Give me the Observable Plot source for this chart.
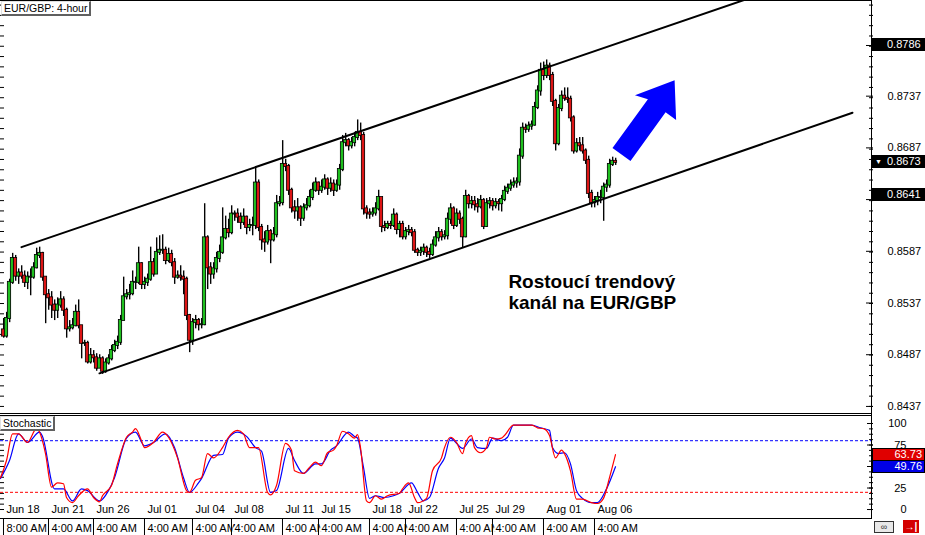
<!DOCTYPE html>
<html><head><meta charset="utf-8">
<script src="https://cdn.jsdelivr.net/npm/d3@7"></script>
<script src="https://cdn.jsdelivr.net/npm/@observablehq/plot@0.6"></script>
<style>
body{margin:0;background:#fff;}
#wrap{position:relative;width:925px;height:535px;overflow:hidden;background:#fff;font-family:"Liberation Sans",Arial,sans-serif;}
#wrap svg{position:absolute;left:0;}
.ln{position:absolute;background:#000;}
.box{position:absolute;left:872px;width:53px;height:13px;font-size:11px;line-height:13px;color:#fff;box-sizing:border-box;}
.tag{position:absolute;background:#fff;color:#000;font-size:10.5px;line-height:12px;padding:0 2px;border-top:1px solid #e0e0e0;border-left:1px solid #e0e0e0;border-right:2px solid #606060;border-bottom:2px solid #606060;white-space:nowrap;}
</style></head>
<body><div id="wrap"></div>
<script>
// ---- Price candles (EUR/GBP, 4-hour), bar index 0..204 ----
const firstOpen = 0.8511;
const closes = [
0.8505,0.8522,0.8557,0.8580,0.8563,0.8566,0.8563,0.8557,0.8562,0.8562,
0.8571,0.8583,0.8585,0.8562,0.8545,0.8542,0.8535,0.8530,0.8535,0.8540,
0.8530,0.8512,0.8513,0.8515,0.8528,0.8515,0.8498,0.8498,0.8480,0.8486,
0.8484,0.8474,0.8483,0.8471,0.8479,0.8483,0.8491,0.8496,0.8499,0.8520,
0.8543,0.8545,0.8546,0.8557,0.8557,0.8575,0.8555,0.8557,0.8560,0.8576,
0.8565,0.8586,0.8588,0.8588,0.8578,0.8584,0.8576,0.8562,0.8563,0.8562,
0.8560,0.8525,0.8501,0.8518,0.8520,0.8516,0.8516,0.8600,0.8571,0.8565,
0.8570,0.8580,0.8586,0.8600,0.8608,0.8605,0.8623,0.8623,0.8620,0.8615,
0.8620,0.8610,0.8612,0.8612,0.8653,0.8610,0.8598,0.8596,0.8606,0.8598,
0.8603,0.8633,0.8634,0.8671,0.8669,0.8646,0.8629,0.8626,0.8629,0.8619,
0.8629,0.8631,0.8639,0.8646,0.8653,0.8646,0.8649,0.8656,0.8648,0.8652,
0.8646,0.8651,0.8666,0.8692,0.8694,0.8689,0.8692,0.8697,0.8702,0.8699,
0.8628,0.8624,0.8623,0.8624,0.8628,0.8639,0.8611,0.8610,0.8613,0.8612,
0.8622,0.8608,0.8613,0.8601,0.8606,0.8607,0.8605,0.8588,0.8586,0.8587,
0.8590,0.8586,0.8584,0.8593,0.8600,0.8605,0.8601,0.8602,0.8618,0.8628,
0.8612,0.8623,0.8618,0.8601,0.8640,0.8633,0.8635,0.8632,0.8630,0.8636,
0.8611,0.8633,0.8635,0.8631,0.8634,0.8633,0.8637,0.8645,0.8648,0.8651,
0.8653,0.8654,0.8679,0.8706,0.8705,0.8708,0.8709,0.8726,0.8742,0.8762,
0.8757,0.8766,0.8757,0.8732,0.8691,0.8725,0.8737,0.8735,0.8734,0.8716,
0.8684,0.8691,0.8689,0.8684,0.8675,0.8643,0.8634,0.8636,0.8639,0.8639,
0.8649,0.8651,0.8671,0.8674,0.8673];
const highs = [
0.8522,0.8528,0.8560,0.8585,0.8583,0.8570,0.8573,0.8568,0.8567,0.8570,
0.8576,0.8590,0.8591,0.8586,0.8562,0.8550,0.8548,0.8540,0.8542,0.8548,
0.8543,0.8532,0.8520,0.8522,0.8535,0.8540,0.8515,0.8501,0.8500,0.8493,
0.8491,0.8488,0.8487,0.8485,0.8483,0.8487,0.8496,0.8501,0.8505,0.8525,
0.8562,0.8550,0.8555,0.8568,0.8562,0.8591,0.8576,0.8562,0.8565,0.8591,
0.8580,0.8600,0.8602,0.8603,0.8591,0.8590,0.8588,0.8580,0.8568,0.8573,
0.8568,0.8562,0.8526,0.8522,0.8525,0.8522,0.8522,0.8633,0.8602,0.8576,
0.8576,0.8586,0.8593,0.8629,0.8621,0.8618,0.8631,0.8626,0.8628,0.8624,
0.8628,0.8621,0.8618,0.8620,0.8669,0.8656,0.8613,0.8606,0.8612,0.8608,
0.8610,0.8641,0.8640,0.8694,0.8676,0.8671,0.8648,0.8636,0.8638,0.8631,
0.8633,0.8638,0.8646,0.8653,0.8658,0.8654,0.8656,0.8661,0.8658,0.8658,
0.8656,0.8656,0.8671,0.8699,0.8701,0.8696,0.8697,0.8702,0.8714,0.8711,
0.8702,0.8631,0.8628,0.8629,0.8634,0.8646,0.8639,0.8616,0.8616,0.8616,
0.8628,0.8624,0.8616,0.8616,0.8610,0.8612,0.8610,0.8608,0.8590,0.8591,
0.8594,0.8592,0.8590,0.8598,0.8606,0.8610,0.8608,0.8607,0.8624,0.8633,
0.8630,0.8628,0.8626,0.8620,0.8646,0.8642,0.8640,0.8640,0.8638,0.8641,
0.8638,0.8638,0.8639,0.8638,0.8638,0.8637,0.8641,0.8650,0.8652,0.8656,
0.8658,0.8658,0.8686,0.8711,0.8710,0.8712,0.8713,0.8731,0.8747,0.8769,
0.8770,0.8772,0.8769,0.8760,0.8734,0.8729,0.8742,0.8745,0.8745,0.8737,
0.8718,0.8696,0.8697,0.8697,0.8686,0.8679,0.8646,0.8640,0.8644,0.8646,
0.8653,0.8656,0.8676,0.8678,0.8677];
const lows = [
0.8503,0.8503,0.8518,0.8555,0.8558,0.8555,0.8560,0.8552,0.8550,0.8544,
0.8560,0.8570,0.8580,0.8558,0.8517,0.8530,0.8522,0.8520,0.8522,0.8532,
0.8524,0.8503,0.8509,0.8511,0.8514,0.8512,0.8483,0.8495,0.8478,0.8478,
0.8479,0.8471,0.8474,0.8468,0.8469,0.8477,0.8481,0.8489,0.8492,0.8496,
0.8522,0.8540,0.8540,0.8544,0.8550,0.8555,0.8550,0.8550,0.8553,0.8558,
0.8562,0.8565,0.8583,0.8584,0.8574,0.8576,0.8572,0.8555,0.8560,0.8558,
0.8545,0.8520,0.8489,0.8496,0.8512,0.8510,0.8512,0.8515,0.8550,0.8555,
0.8560,0.8566,0.8576,0.8584,0.8598,0.8600,0.8603,0.8616,0.8614,0.8608,
0.8612,0.8603,0.8606,0.8602,0.8608,0.8606,0.8588,0.8586,0.8593,0.8575,
0.8596,0.8600,0.8630,0.8631,0.8664,0.8641,0.8624,0.8618,0.8616,0.8611,
0.8616,0.8626,0.8629,0.8636,0.8644,0.8641,0.8643,0.8646,0.8641,0.8644,
0.8640,0.8644,0.8646,0.8664,0.8688,0.8684,0.8686,0.8688,0.8694,0.8694,
0.8622,0.8618,0.8618,0.8620,0.8621,0.8626,0.8605,0.8606,0.8608,0.8608,
0.8610,0.8603,0.8600,0.8598,0.8598,0.8602,0.8601,0.8585,0.8582,0.8582,
0.8583,0.8581,0.8580,0.8582,0.8591,0.8596,0.8597,0.8598,0.8598,0.8613,
0.8608,0.8610,0.8613,0.8590,0.8600,0.8628,0.8628,0.8626,0.8624,0.8628,
0.8608,0.8610,0.8628,0.8626,0.8628,0.8626,0.8625,0.8635,0.8642,0.8645,
0.8648,0.8648,0.8650,0.8676,0.8701,0.8702,0.8704,0.8708,0.8724,0.8737,
0.8752,0.8754,0.8752,0.8727,0.8684,0.8689,0.8722,0.8732,0.8730,0.8712,
0.8681,0.8682,0.8684,0.8681,0.8671,0.8638,0.8629,0.8629,0.8631,0.8633,
0.8616,0.8644,0.8648,0.8669,0.8670];

// ---- Stochastic (bar index, value) ----
const stochK = [[-1,37],[1,57],[3,88],[5,88],[8,78],[11,94],[12,90],[14,65],[16,26],[18,31],[20,30],[21,14],[23,8],[25,16],[28,24],[30,14],[32,9],[33,16],[36,28],[38,53],[41,84],[43,90],[44,94],[46,80],[47,72],[50,78],[53,90],[55,84],[58,60],[61,22],[62,20],[64,34],[66,37],[68,65],[70,60],[73,72],[75,84],[78,92],[80,88],[82,72],[85,72],[88,20],[89,17],[91,28],[94,77],[96,69],[97,45],[100,42],[102,49],[104,55],[106,51],[108,66],[110,69],[111,74],[113,91],[115,88],[117,83],[118,87],[119,72],[121,10],[122,8],[124,16],[126,12],[128,16],[132,19],[133,24],[135,31],[137,14],[138,8],[141,13],[143,45],[146,60],[147,72],[149,84],[151,78],[153,65],[154,77],[156,86],[157,72],[159,66],[161,72],[162,84],[164,82],[166,83],[167,86],[170,98],[172,98],[176,98],[178,95],[180,94],[182,86],[184,60],[186,69],[187,65],[189,45],[191,12],[193,12],[196,8],[198,7],[200,13],[202,37],[204,63.73]];
const stochD = [[-1,36],[2,57],[5,88],[8,78],[12,90],[13,85],[17,24],[20,24],[23,10],[26,24],[28,22],[32,10],[35,22],[37,37],[41,83],[44,90],[47,74],[50,78],[54,88],[57,72],[60,37],[62,20],[65,31],[66,36],[70,63],[73,64],[75,83],[78,90],[81,85],[84,72],[86,68],[89,20],[91,22],[95,71],[97,57],[100,42],[104,53],[106,53],[109,69],[111,74],[115,90],[117,85],[118,83],[120,49],[122,13],[124,16],[127,14],[130,16],[132,19],[136,31],[138,20],[140,10],[142,14],[145,48],[147,60],[149,83],[151,77],[153,71],[156,82],[158,72],[161,71],[163,83],[166,80],[168,84],[170,98],[176,98],[179,95],[182,92],[183,72],[185,65],[187,66],[189,53],[191,22],[193,13],[196,8],[198,8],[201,24],[204,49.76]];
const stochLevels = {upper: 80, lower: 20};

// ---- Axis labels (labels hidden behind value boxes in the reference are left out) ----
const priceTicks = [0.8786,0.8737,0.8687,0.8637,0.8587,0.8537,0.8487,0.8437];
const priceTickLabels = ["0.8737","0.8687","0.8587","0.8537","0.8487","0.8437"];
const stochTicks = [100,75,50,25,0];
const stochTickLabels = [100,75,25,0];
const dateBars = [0,15,30,47,63,76,93,105,122,134,151,163,180,197];
const dateLabels = ["Jun 18","Jun 21","Jun 26","Jul 01","Jul 04","Jul 08","Jul 11","Jul 15","Jul 18","Jul 22","Jul 25","Jul 29","Aug 01","Aug 06"];
const timeLabels = ["8:00 AM","4:00 AM","4:00 AM","4:00 AM","4:00 AM","4:00 AM","4:00 AM","4:00 AM","4:00 AM","4:00 AM","4:00 AM","4:00 AM","4:00 AM","4:00 AM"];

// ---- Annotations ----
const upperChannel = [{bar:6, price:0.8591},{bar:260, price:0.8843}];
const lowerChannel = [{bar:32, price:0.8469},{bar:283, price:0.8721}];
const arrowBars   = [203, 214.8, 210.5, 223.7, 224.2, 220.7, 209];
const arrowPrices = [0.86869, 0.87340, 0.87380, 0.87525, 0.87140, 0.87214, 0.86743];
const noteText = "Rostoucí trendový\nkanál na EUR/GBP";
const notePos = {bar:168.3, price:0.85476};
const symbolTitle = "EUR/GBP: 4-hour";
const panelTitle = "Stochastic";
const priceMarkers = [{v:0.8786, t:"0.8786"},{v:0.8673, t:"0.8673", arrow:true},{v:0.8641, t:"0.8641"}];
const stochMarkers = [{v:63.73, t:"63.73", c:"#e00000"},{v:49.76, t:"49.76", c:"#0000e6"}];

// ---- Build tables ----
const bars = closes.map((c, i) => {
  const o = i === 0 ? firstOpen : closes[i - 1];
  return {i, open: o, close: c, high: Math.max(highs[i], o, c), low: Math.min(lows[i], o, c)};
});
const arrow = arrowBars.map((b, k) => ({bar: b, price: arrowPrices[k]}));
const dates = dateBars.map((b, k) => ({bar: b, date: dateLabels[k], time: timeLabels[k]}));
const minorPrice = d3.range(0, 41).map(k => 0.8437 + k * 0.000995);
const minorStoch = d3.range(0, 17).map(k => k * 6.25);

const xDomain = [-1, 289.667];
const font = "'Liberation Sans', Arial, sans-serif";
const wrap = document.getElementById("wrap");

const main = Plot.plot({
  width: 925, height: 414,
  marginLeft: 0, marginRight: 53, marginTop: 0, marginBottom: 0,
  x: {domain: xDomain, axis: null},
  y: {domain: [0.84292, 0.88295], axis: null, label: null},
  style: {fontFamily: font, background: "transparent"},
  marks: [
    Plot.axisY(minorPrice, {anchor: "left", tickSize: -4, tickFormat: () => "", stroke: "#000"}),
    Plot.axisY(minorPrice, {anchor: "right", tickSize: -4, tickFormat: () => "", stroke: "#000"}),
    Plot.axisY(priceTicks, {anchor: "right", tickSize: -7, tickFormat: () => "", stroke: "#000"}),
    Plot.text(priceTickLabels, {y: d => +d, text: d => d, frameAnchor: "right", dx: 15, textAnchor: "start", fontSize: 11, fill: "#000"}),
    Plot.ruleX(bars, {x: "i", y1: "low", y2: "high", stroke: "#a0a0a0", dx: 1, strokeWidth: 1}),
    Plot.ruleX(bars, {x: "i", y1: "low", y2: "high", stroke: "#000", strokeWidth: 1}),
    Plot.rect(bars, {x1: d => d.i - 0.55, x2: d => d.i + 0.55, y1: "open", y2: "close",
      fill: d => d.close >= d.open ? "#1fc01f" : "#dd1515", stroke: "#000", strokeWidth: 0.8,
      insetTop: -0.5, insetBottom: -0.5}),
    Plot.line(upperChannel, {x: "bar", y: "price", stroke: "#000", strokeWidth: 2, clip: true}),
    Plot.line(lowerChannel, {x: "bar", y: "price", stroke: "#000", strokeWidth: 2, clip: true}),
    Plot.line(arrow, {x: "bar", y: "price", fill: "#0000ff", stroke: "none", strokeWidth: 0}),
    Plot.text([notePos], {x: "bar", y: "price", text: () => noteText, textAnchor: "start", lineAnchor: "middle",
      fontSize: 19, fontWeight: "bold", lineHeight: 1.1, fill: "#000"})
  ]
});
main.style.top = "0px";
wrap.appendChild(main);

const stoch = Plot.plot({
  width: 925, height: 104,
  marginLeft: 0, marginRight: 53, marginTop: 0, marginBottom: 0,
  x: {domain: xDomain, axis: null},
  y: {domain: [-11.6, 109.3], axis: null, label: null},
  style: {fontFamily: font, background: "transparent"},
  marks: [
    Plot.axisY(minorStoch, {anchor: "left", tickSize: -4, tickFormat: () => "", stroke: "#000"}),
    Plot.axisY(minorStoch, {anchor: "right", tickSize: -4, tickFormat: () => "", stroke: "#000"}),
    Plot.axisY(stochTicks, {anchor: "right", tickSize: -6, tickFormat: () => "", stroke: "#000"}),
    Plot.text(stochTickLabels, {y: d => d, text: d => String(d), frameAnchor: "right", dx: 34, textAnchor: "end", fontSize: 11, fill: "#000"}),
    Plot.ruleY([stochLevels.upper], {stroke: "#0000ff", strokeDasharray: "3,2", strokeWidth: 1}),
    Plot.ruleY([stochLevels.lower], {stroke: "#ff0000", strokeDasharray: "3,2", strokeWidth: 1}),
    Plot.line(stochD, {x: d => d[0], y: d => d[1], stroke: "#0000ff", strokeWidth: 1.2, curve: "monotone-x"}),
    Plot.line(stochK, {x: d => d[0], y: d => d[1], stroke: "#ff0000", strokeWidth: 1.2, curve: "monotone-x"}),
    Plot.text(dates, {x: "bar", text: "date", frameAnchor: "bottom", dy: -7, dx: 3, textAnchor: "start", fontSize: 11, fill: "#000"})
  ]
});
stoch.style.top = "415px";
wrap.appendChild(stoch);

const timeRow = Plot.plot({
  width: 925, height: 16,
  marginLeft: 0, marginRight: 53, marginTop: 0, marginBottom: 0,
  x: {domain: xDomain, axis: null},
  y: {axis: null},
  style: {fontFamily: font, background: "transparent"},
  marks: [
    Plot.text(dates, {x: "bar", text: "time", frameAnchor: "middle", dy: 1, dx: 3, textAnchor: "start", fontSize: 11,
      fill: "#000", stroke: "#fff", strokeWidth: 4, paintOrder: "stroke"}),
    Plot.ruleX(dates, {x: "bar", stroke: "#000", strokeWidth: 1})
  ]
});
timeRow.style.top = "519px";
wrap.appendChild(timeRow);

// frame lines
function line(l, t, w, h) { const d = document.createElement("div"); d.className = "ln";
  Object.assign(d.style, {left: l + "px", top: t + "px", width: w + "px", height: h + "px"}); wrap.appendChild(d); }
line(0, 0, 872, 1);
line(0, 413, 872, 1);
line(0, 415, 872, 1);
line(0, 518, 872, 1);
line(871, 0, 1, 519);

// highlighted value boxes (positioned with the plots' own scales)
const ys = main.scale("y"), ss = stoch.scale("y");
for (const m of priceMarkers) {
  const d = document.createElement("div"); d.className = "box";
  d.style.top = (ys.apply(m.v) - 6.5) + "px"; d.style.background = "#000";
  d.innerHTML = (m.arrow ? '<span style="position:absolute;left:3px;font-size:7px;">&#9660;</span>' : "") +
    '<span style="position:absolute;left:15px;">' + m.t + '</span>';
  wrap.appendChild(d);
}
for (const m of stochMarkers) {
  const d = document.createElement("div"); d.className = "box";
  d.style.top = (415 + ss.apply(m.v) - 6.5) + "px"; d.style.background = m.c; d.style.border = "1px solid #000";
  d.style.textAlign = "right"; d.style.paddingRight = "2px"; d.style.lineHeight = "11px";
  d.textContent = m.t; wrap.appendChild(d);
}

// title tags
function tag(text, l, t) { const d = document.createElement("div"); d.className = "tag";
  d.style.left = l + "px"; d.style.top = t + "px"; d.textContent = text; wrap.appendChild(d); }
tag(symbolTitle, 1, 1);
tag(panelTitle, 0, 416);

// bottom-right buttons
const b1 = document.createElement("div");
Object.assign(b1.style, {position: "absolute", left: "874px", top: "521px", width: "18px", height: "10px", border: "1px solid #333", background: "#e8e8e8", fontSize: "9px", lineHeight: "10px", textAlign: "center", color: "#333"});
b1.textContent = "∞"; wrap.appendChild(b1);
const b2 = document.createElement("div");
Object.assign(b2.style, {position: "absolute", left: "903px", top: "520px", width: "16px", height: "13px", background: "#d40000", fontSize: "10px", lineHeight: "13px", textAlign: "center", color: "#fff", fontWeight: "bold"});
b2.textContent = "→|"; wrap.appendChild(b2);
</script>
</body></html>
